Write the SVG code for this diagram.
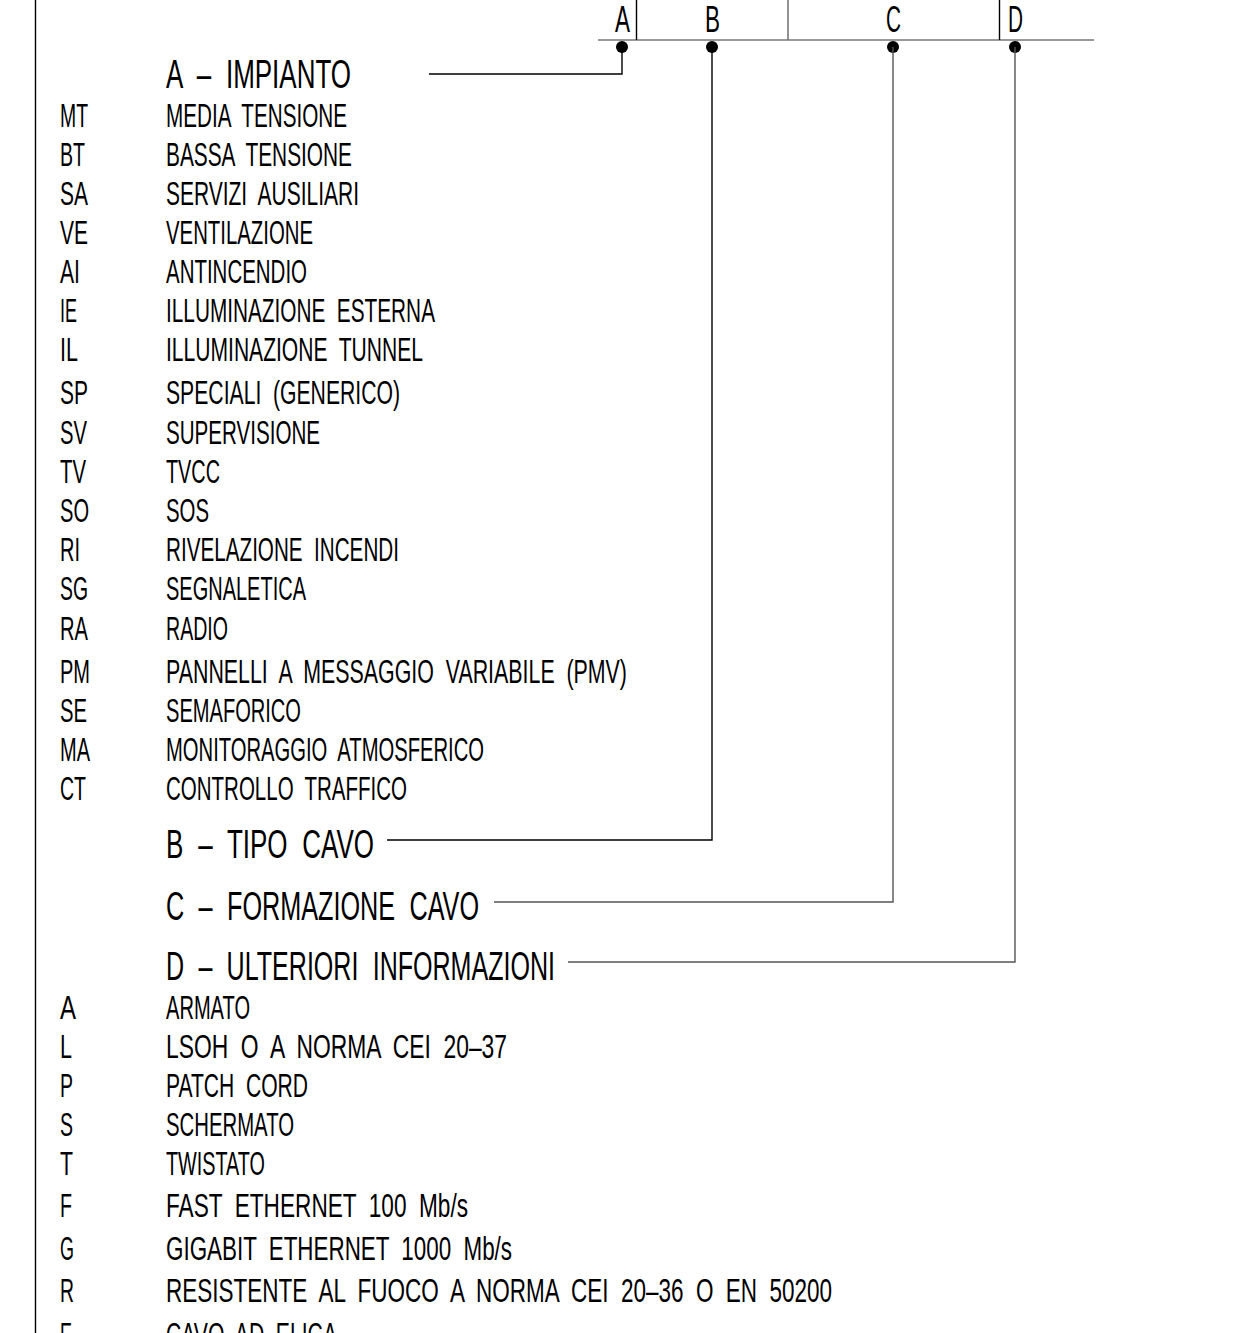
<svg xmlns="http://www.w3.org/2000/svg" width="1248" height="1333" viewBox="0 0 1248 1333">
<style>
text{font-family:"Liberation Sans",Arial,sans-serif;fill:#000;}
.s{font-size:33px;word-spacing:9px;}
.h{font-size:41px;word-spacing:12px;}
.k{font-size:36px;}
.ln{stroke:#000;stroke-width:1.4;fill:none;}
.gl{stroke:#777;stroke-width:1.6;fill:none;}
</style>
<rect width="1248" height="1333" fill="#fff"/>
<line x1="35.5" y1="0" x2="35.5" y2="1333" class="ln"/>
<g id="header">
<line x1="598" y1="40" x2="1094" y2="40" class="gl"/>
<line x1="636.5" y1="0" x2="636.5" y2="40" class="ln"/>
<line x1="788" y1="0" x2="788" y2="40" class="gl"/>
<line x1="999.5" y1="0" x2="999.5" y2="40" class="ln"/>
<text class="k" x="615" y="32" textLength="15" lengthAdjust="spacingAndGlyphs">A</text>
<text class="k" x="705" y="32" textLength="15" lengthAdjust="spacingAndGlyphs">B</text>
<text class="k" x="886" y="32" textLength="15" lengthAdjust="spacingAndGlyphs">C</text>
<text class="k" x="1008" y="32" textLength="15" lengthAdjust="spacingAndGlyphs">D</text>
<circle cx="622" cy="47" r="6"/>
<circle cx="712" cy="47" r="6"/>
<circle cx="893" cy="47" r="6"/>
<circle cx="1015" cy="47" r="6"/>
</g>
<g id="connectors">
<polyline points="622,47 622,74 429,74" class="ln"/>
<polyline points="712,47 712,840 387,840" class="ln"/>
<polyline points="893,47 893,902 494,902" class="gl" style="stroke-width:1.4;stroke:#555"/>
<polyline points="1015,47 1015,962 568,962" class="gl" style="stroke-width:1.4;stroke:#555"/>
</g>
<g id="heading-a"><text class="h" x="166" y="88" textLength="185" lengthAdjust="spacingAndGlyphs">A – IMPIANTO</text></g>
<g id="list-a">
<text class="s" x="60" y="127" textLength="28" lengthAdjust="spacingAndGlyphs">MT</text><text class="s" x="166" y="127" textLength="181" lengthAdjust="spacingAndGlyphs">MEDIA TENSIONE</text>
<text class="s" x="60" y="166" textLength="25" lengthAdjust="spacingAndGlyphs">BT</text><text class="s" x="166" y="166" textLength="186" lengthAdjust="spacingAndGlyphs">BASSA TENSIONE</text>
<text class="s" x="60" y="205" textLength="28" lengthAdjust="spacingAndGlyphs">SA</text><text class="s" x="166" y="205" textLength="193" lengthAdjust="spacingAndGlyphs">SERVIZI AUSILIARI</text>
<text class="s" x="60" y="244" textLength="28" lengthAdjust="spacingAndGlyphs">VE</text><text class="s" x="166" y="244" textLength="147" lengthAdjust="spacingAndGlyphs">VENTILAZIONE</text>
<text class="s" x="60" y="283" textLength="20" lengthAdjust="spacingAndGlyphs">AI</text><text class="s" x="166" y="283" textLength="141" lengthAdjust="spacingAndGlyphs">ANTINCENDIO</text>
<text class="s" x="60" y="322" textLength="17" lengthAdjust="spacingAndGlyphs">IE</text><text class="s" x="166" y="322" textLength="269" lengthAdjust="spacingAndGlyphs">ILLUMINAZIONE ESTERNA</text>
<text class="s" x="60" y="361" textLength="18" lengthAdjust="spacingAndGlyphs">IL</text><text class="s" x="166" y="361" textLength="257" lengthAdjust="spacingAndGlyphs">ILLUMINAZIONE TUNNEL</text>
<text class="s" x="60" y="404" textLength="28" lengthAdjust="spacingAndGlyphs">SP</text><text class="s" x="166" y="404" textLength="234" lengthAdjust="spacingAndGlyphs">SPECIALI (GENERICO)</text>
<text class="s" x="60" y="444" textLength="27" lengthAdjust="spacingAndGlyphs">SV</text><text class="s" x="166" y="444" textLength="154" lengthAdjust="spacingAndGlyphs">SUPERVISIONE</text>
<text class="s" x="60" y="483" textLength="26" lengthAdjust="spacingAndGlyphs">TV</text><text class="s" x="166" y="483" textLength="54" lengthAdjust="spacingAndGlyphs">TVCC</text>
<text class="s" x="60" y="522" textLength="29" lengthAdjust="spacingAndGlyphs">SO</text><text class="s" x="166" y="522" textLength="43" lengthAdjust="spacingAndGlyphs">SOS</text>
<text class="s" x="60" y="561" textLength="20" lengthAdjust="spacingAndGlyphs">RI</text><text class="s" x="166" y="561" textLength="233" lengthAdjust="spacingAndGlyphs">RIVELAZIONE INCENDI</text>
<text class="s" x="60" y="600" textLength="28" lengthAdjust="spacingAndGlyphs">SG</text><text class="s" x="166" y="600" textLength="140" lengthAdjust="spacingAndGlyphs">SEGNALETICA</text>
<text class="s" x="60" y="640" textLength="28" lengthAdjust="spacingAndGlyphs">RA</text><text class="s" x="166" y="640" textLength="62" lengthAdjust="spacingAndGlyphs">RADIO</text>
<text class="s" x="60" y="683" textLength="30" lengthAdjust="spacingAndGlyphs">PM</text><text class="s" x="166" y="683" textLength="461" lengthAdjust="spacingAndGlyphs">PANNELLI A MESSAGGIO VARIABILE (PMV)</text>
<text class="s" x="60" y="722" textLength="27" lengthAdjust="spacingAndGlyphs">SE</text><text class="s" x="166" y="722" textLength="135" lengthAdjust="spacingAndGlyphs">SEMAFORICO</text>
<text class="s" x="60" y="761" textLength="30" lengthAdjust="spacingAndGlyphs">MA</text><text class="s" x="166" y="761" textLength="318" lengthAdjust="spacingAndGlyphs">MONITORAGGIO ATMOSFERICO</text>
<text class="s" x="60" y="800" textLength="26" lengthAdjust="spacingAndGlyphs">CT</text><text class="s" x="166" y="800" textLength="241" lengthAdjust="spacingAndGlyphs">CONTROLLO TRAFFICO</text>
</g>
<g id="heading-b"><text class="h" x="166" y="858" textLength="208" lengthAdjust="spacingAndGlyphs">B – TIPO CAVO</text></g>
<g id="heading-c"><text class="h" x="166" y="920" textLength="313" lengthAdjust="spacingAndGlyphs">C – FORMAZIONE CAVO</text></g>
<g id="heading-d"><text class="h" x="166" y="980" textLength="389" lengthAdjust="spacingAndGlyphs">D – ULTERIORI INFORMAZIONI</text></g>
<g id="list-d">
<text class="s" x="60" y="1019" textLength="16" lengthAdjust="spacingAndGlyphs">A</text><text class="s" x="166" y="1019" textLength="84" lengthAdjust="spacingAndGlyphs">ARMATO</text>
<text class="s" x="60" y="1058" textLength="12" lengthAdjust="spacingAndGlyphs">L</text><text class="s" x="166" y="1058" textLength="341" lengthAdjust="spacingAndGlyphs">LSOH O A NORMA CEI 20–37</text>
<text class="s" x="60" y="1097" textLength="13" lengthAdjust="spacingAndGlyphs">P</text><text class="s" x="166" y="1097" textLength="142" lengthAdjust="spacingAndGlyphs">PATCH CORD</text>
<text class="s" x="60" y="1136" textLength="13" lengthAdjust="spacingAndGlyphs">S</text><text class="s" x="166" y="1136" textLength="128" lengthAdjust="spacingAndGlyphs">SCHERMATO</text>
<text class="s" x="60" y="1175" textLength="13" lengthAdjust="spacingAndGlyphs">T</text><text class="s" x="166" y="1175" textLength="99" lengthAdjust="spacingAndGlyphs">TWISTATO</text>
<text class="s" x="60" y="1217" textLength="12" lengthAdjust="spacingAndGlyphs">F</text><text class="s" x="166" y="1217" textLength="302" lengthAdjust="spacingAndGlyphs">FAST ETHERNET 100 Mb/s</text>
<text class="s" x="60" y="1260" textLength="14" lengthAdjust="spacingAndGlyphs">G</text><text class="s" x="166" y="1260" textLength="346" lengthAdjust="spacingAndGlyphs">GIGABIT ETHERNET 1000 Mb/s</text>
<text class="s" x="60" y="1302" textLength="14" lengthAdjust="spacingAndGlyphs">R</text><text class="s" x="166" y="1302" textLength="666" lengthAdjust="spacingAndGlyphs">RESISTENTE AL FUOCO A NORMA CEI 20–36 O EN 50200</text>
<text class="s" x="60" y="1346" textLength="12" lengthAdjust="spacingAndGlyphs">E</text><text class="s" x="166" y="1346" textLength="171" lengthAdjust="spacingAndGlyphs">CAVO AD ELICA</text>
</g>
</svg>
